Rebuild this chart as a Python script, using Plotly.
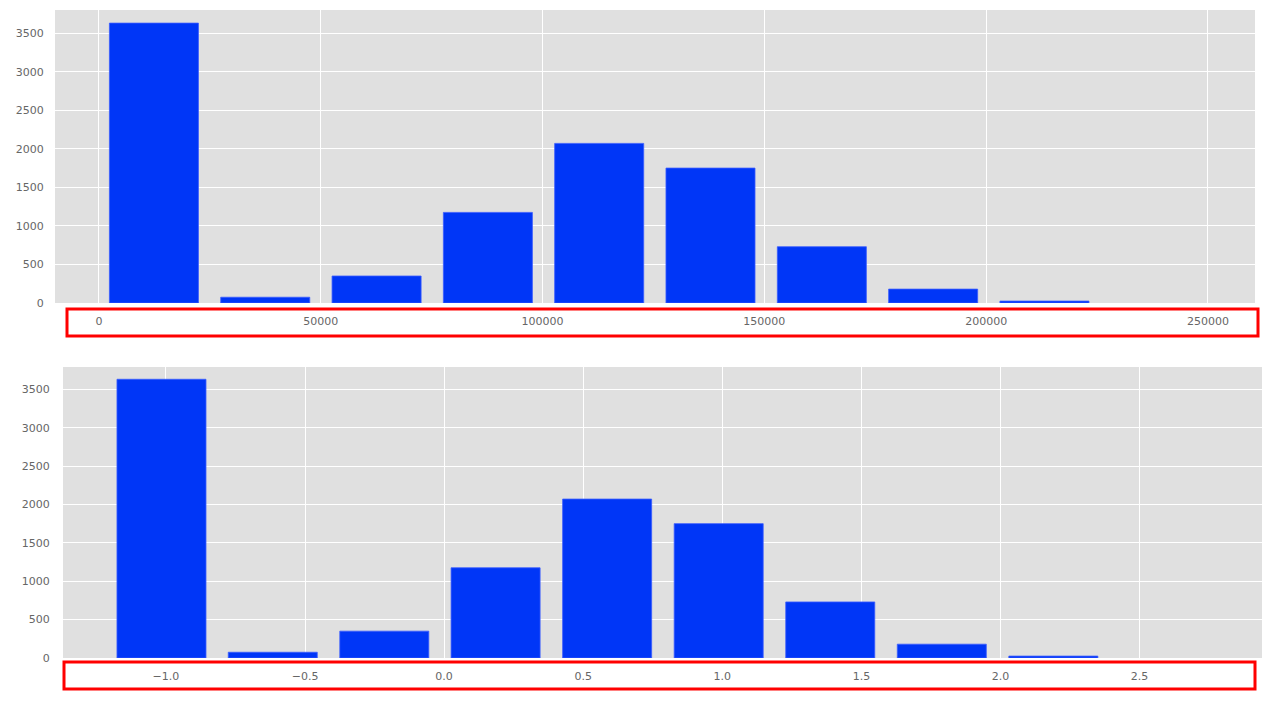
import plotly.graph_objects as go

W, H = 1273, 707

# ---- data ----
counts = [3630, 75, 350, 1175, 2070, 1750, 730, 180, 25]
raw_centers = [12400, 37490, 62590, 87680, 112770, 137860, 162960, 188050, 213140]
raw_bar_width = 20070
std_centers = [-1.016, -0.616, -0.215, 0.185, 0.586, 0.987, 1.388, 1.789, 2.190]
std_bar_width = 0.32
raw_ticks = [0, 50000, 100000, 150000, 200000, 250000]
std_ticks = [-1.0, -0.5, 0.0, 0.5, 1.0, 1.5, 2.0, 2.5]
y_ticks = [0, 500, 1000, 1500, 2000, 2500, 3000, 3500]

BLUE = "#0036f7"
BG = "#e0e0e0"
TICKC = "#666666"
FONT = dict(family="DejaVu Sans", size=11, color=TICKC)


def px_x(p):
    return p / W


def px_y(p):
    return 1 - p / H


fig = go.Figure()
fig.add_trace(go.Bar(x=raw_centers, y=counts, width=raw_bar_width,
                     marker=dict(color=BLUE, line=dict(color="#3a5cff", width=0.8)),
                     xaxis="x", yaxis="y", showlegend=False))
fig.add_trace(go.Bar(x=std_centers, y=counts, width=std_bar_width,
                     marker=dict(color=BLUE, line=dict(color="#3a5cff", width=0.8)),
                     xaxis="x2", yaxis="y2", showlegend=False))

axis_common = dict(showgrid=True, gridcolor="white", gridwidth=1, zeroline=False,
                   showline=False, tickfont=FONT, automargin=False,
                   ticks="outside", tickcolor="rgba(0,0,0,0)")

fig.update_layout(
    width=W, height=H,
    margin=dict(l=0, r=0, t=0, b=0),
    paper_bgcolor="white",
    plot_bgcolor=BG,
    font=FONT,
    xaxis=dict(domain=[px_x(55), px_x(1255)], range=[-9900, 260600],
               tickvals=raw_ticks, tickformat="d", anchor="y", ticklen=8, **axis_common),
    yaxis=dict(domain=[px_y(303), px_y(10)], range=[0, 3800],
               tickvals=y_ticks, anchor="x", ticklen=8, **axis_common),
    xaxis2=dict(domain=[px_x(63), px_x(1262)], range=[-1.37, 2.94],
                tickvals=std_ticks, tickformat=".1f", anchor="y2", ticklen=8, **axis_common),
    yaxis2=dict(domain=[px_y(658), px_y(367)], range=[0, 3790],
                tickvals=y_ticks, anchor="x2", ticklen=10, **axis_common),
    shapes=[
        dict(type="rect", xref="paper", yref="paper",
             x0=px_x(67), x1=px_x(1258), y0=px_y(336), y1=px_y(309),
             line=dict(color="#ff0000", width=3), fillcolor="rgba(0,0,0,0)"),
        dict(type="rect", xref="paper", yref="paper",
             x0=px_x(64), x1=px_x(1255), y0=px_y(689), y1=px_y(662),
             line=dict(color="#ff0000", width=3), fillcolor="rgba(0,0,0,0)"),
    ],
)

fig.write_html("out.html", config={"displayModeBar": False},
               post_script="document.body.style.margin='0';document.body.style.overflow='hidden';")
